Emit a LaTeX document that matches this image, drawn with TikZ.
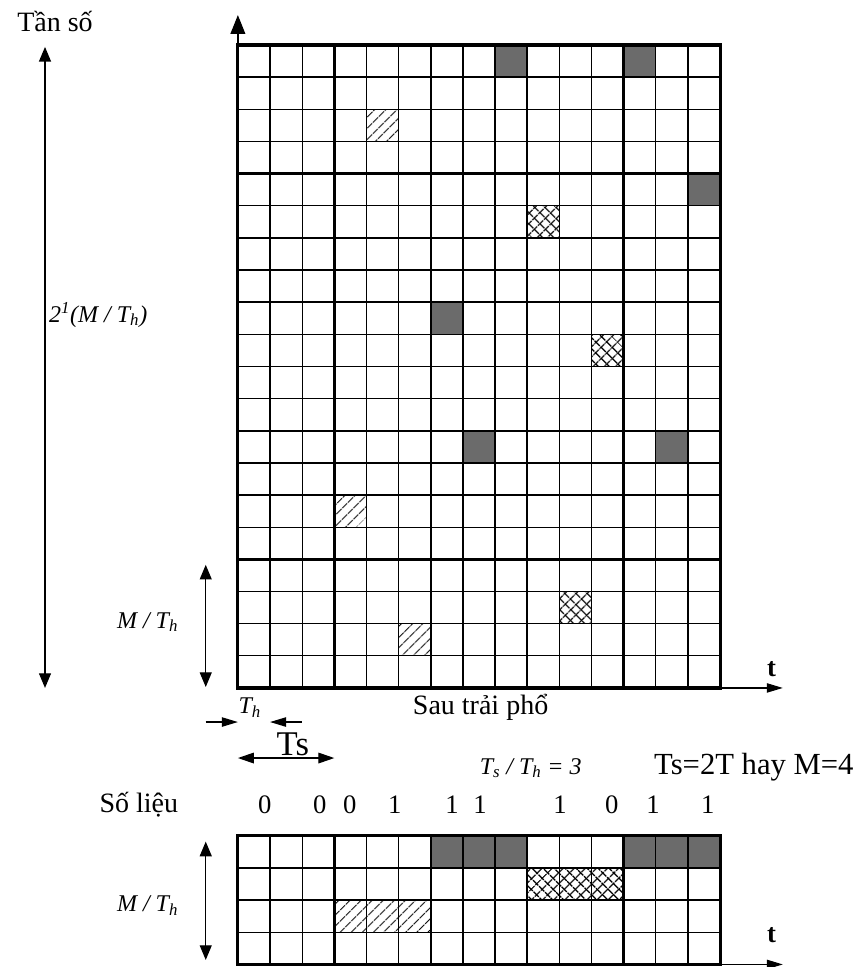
\documentclass[tikz,border=0pt]{standalone}
\usepackage{fontspec}
\setmainfont{Liberation Serif}
\usetikzlibrary{arrows.meta, patterns.meta, positioning}

\begin{document}
\begin{tikzpicture}[x=0.8475cm, y=0.8475cm,
    thin grid/.style={line width=1pt},
    band line/.style={line width=1.8pt},
    border line/.style={line width=2.4pt},
    dotcell/.style={fill=black!58},
    hatchcell/.style={pattern={Lines[angle=45, distance=6.5pt, line width=1pt]}},
    crosscell/.style={pattern={Lines[angle=45, distance=6.5pt, line width=1.1pt]},
        postaction={pattern={Lines[angle=-45, distance=6.5pt, line width=1.1pt]}}},
    axis arrow/.style={line width=0.9pt, -{Triangle[length=12pt, width=7pt]}},
    freq arrow/.style={line width=0.9pt, {Triangle[length=11pt, width=9pt]}-{Triangle[length=11pt, width=9pt]}},
    dim arrow/.style={line width=0.9pt, -{Triangle[length=12pt, width=7pt]}},
    big text/.style={font=\fontsize{21}{24}\selectfont, inner sep=0pt},
    huge text/.style={font=\fontsize{23}{28}\selectfont, inner sep=0pt},
    italic label/.style={font=\fontsize{18}{21}\selectfont\itshape, inner sep=0pt},
    bit/.style={font=\fontsize{20}{24}\selectfont, inner sep=0pt},
    axis label/.style={font=\fontsize{20}{24}\selectfont\bfseries, inner sep=0pt}]

    \useasboundingbox (-7.40,-8.68) rectangle (19.28,21.40);

    % shaded cells of the hopped signal
    \foreach \c/\r in {8/19, 12/19, 14/15, 6/11, 7/7, 13/7}
        \fill[dotcell] (\c,\r) rectangle ++(1,1);
    \foreach \c/\r in {4/17, 3/5, 5/1}
        \path[hatchcell] (\c,\r) rectangle ++(1,1);
    \foreach \c/\r in {9/14, 11/10, 10/2}
        \path[crosscell] (\c,\r) rectangle ++(1,1);

    % main grid
    \foreach \x in {1,...,14} \draw[thin grid] (\x,0) -- (\x,20);
    \foreach \y in {1,...,19} \draw[thin grid] (0,\y) -- (15,\y);
    \foreach \x in {3,6,9,12} \draw[band line] (\x,0) -- (\x,20);
    \foreach \y in {4,8,12,16} \draw[band line] (0,\y) -- (15,\y);
    \draw[border line] (0,0) rectangle (15,20);

    % axes
    \coordinate (origin) at (0,0);
    \coordinate (ftop) at (0,20.93);
    \coordinate (tend) at (16.95,0);
    \draw[line width=1pt, -{Triangle[length=14pt, width=11pt]}] (origin) -- (ftop);
    \draw[axis arrow] (origin) -- (tend);
    \node[axis label] (tlabel) at (16.6,0.6) {t};

    % frequency labels
    \node[big text] (tanso) at (-5.69,20.72) {Tần số};
    \coordinate (bwtop) at (-6.0,19.94);
    \coordinate (bwbot) at (-6.0,0);
    \draw[freq arrow] (bwtop) -- (bwbot);
    \node[italic label, anchor=west] (bw) at (-5.88,11.6) {2\textsuperscript{1}(M / T\textsubscript{h})};
    \coordinate (mtop) at (-1.0,3.83);
    \coordinate (mbot) at (-1.0,0.03);
    \draw[freq arrow] (mtop) -- (mbot);
    \node[italic label, anchor=east] (mlabel) at (-1.85,2.05) {M / T\textsubscript{h}};

    % hop and symbol durations
    \node[italic label] (th) at (0.37,-0.62) {T\textsubscript{h}};
    \coordinate (thleft) at (-1.0,-1.06);
    \coordinate (thright) at (1.99,-1.06);
    \coordinate (thA) at (0,-1.06);
    \coordinate (thB) at (1,-1.06);
    \draw[dim arrow] (thleft) -- (thA);
    \draw[dim arrow] (thright) -- (thB);
    \coordinate (tsA) at (0,-2.18);
    \coordinate (tsB) at (3,-2.18);
    \draw[line width=0.9pt, {Triangle[length=12pt, width=8pt]}-{Triangle[length=12pt, width=8pt]}] (tsA) -- (tsB);
    \node[huge text, font=\fontsize{26}{30}\selectfont] (ts) at (1.71,-1.76) {Ts};
    \node[big text] (sau) at (7.55,-0.6) {Sau trải phổ};
    \node[italic label] (ratio) at (9.11,-2.49) {T\textsubscript{s} / T\textsubscript{h} = 3};
    \node[huge text] (param) at (16.05,-2.46) {Ts=2T hay M=4};

    % data bits
    \node[big text] (solieu) at (-3.08,-3.64) {Số liệu};
    \foreach \x/\b [count=\i] in {0.84/0, 2.55/0, 3.48/0, 4.88/1, 6.66/1, 7.53/1, 10.02/1, 11.63/0, 12.91/1, 14.62/1}
        \node[bit] (bit\i) at (\x,-3.64) {\b};

    % data before spreading
    \begin{scope}[shift={(0,-8.6)}]
        \fill[dotcell] (6,3) rectangle (9,4);
        \fill[dotcell] (12,3) rectangle (15,4);
        \path[hatchcell] (3,1) rectangle (6,2);
        \path[crosscell] (9,2) rectangle (12,3);
        \foreach \x in {1,...,14} \draw[thin grid] (\x,0) -- (\x,4);
        \foreach \y in {1,...,3} \draw[thin grid] (0,\y) -- (15,\y);
        \foreach \x in {3,6,9,12} \draw[band line] (\x,0) -- (\x,4);
        \draw[border line] (0,0) rectangle (15,4);
        \coordinate (borigin) at (15,0);
        \coordinate (btend) at (16.95,0);
        \draw[axis arrow] (borigin) -- (btend);
        \node[axis label] (btlabel) at (16.6,0.92) {t};
        \coordinate (bmtop) at (-1.0,3.82);
        \coordinate (bmbot) at (-1.0,0.14);
        \draw[freq arrow] (bmtop) -- (bmbot);
        \node[italic label, anchor=east] (bmlabel) at (-1.85,1.83) {M / T\textsubscript{h}};
    \end{scope}
\end{tikzpicture}
\end{document}
